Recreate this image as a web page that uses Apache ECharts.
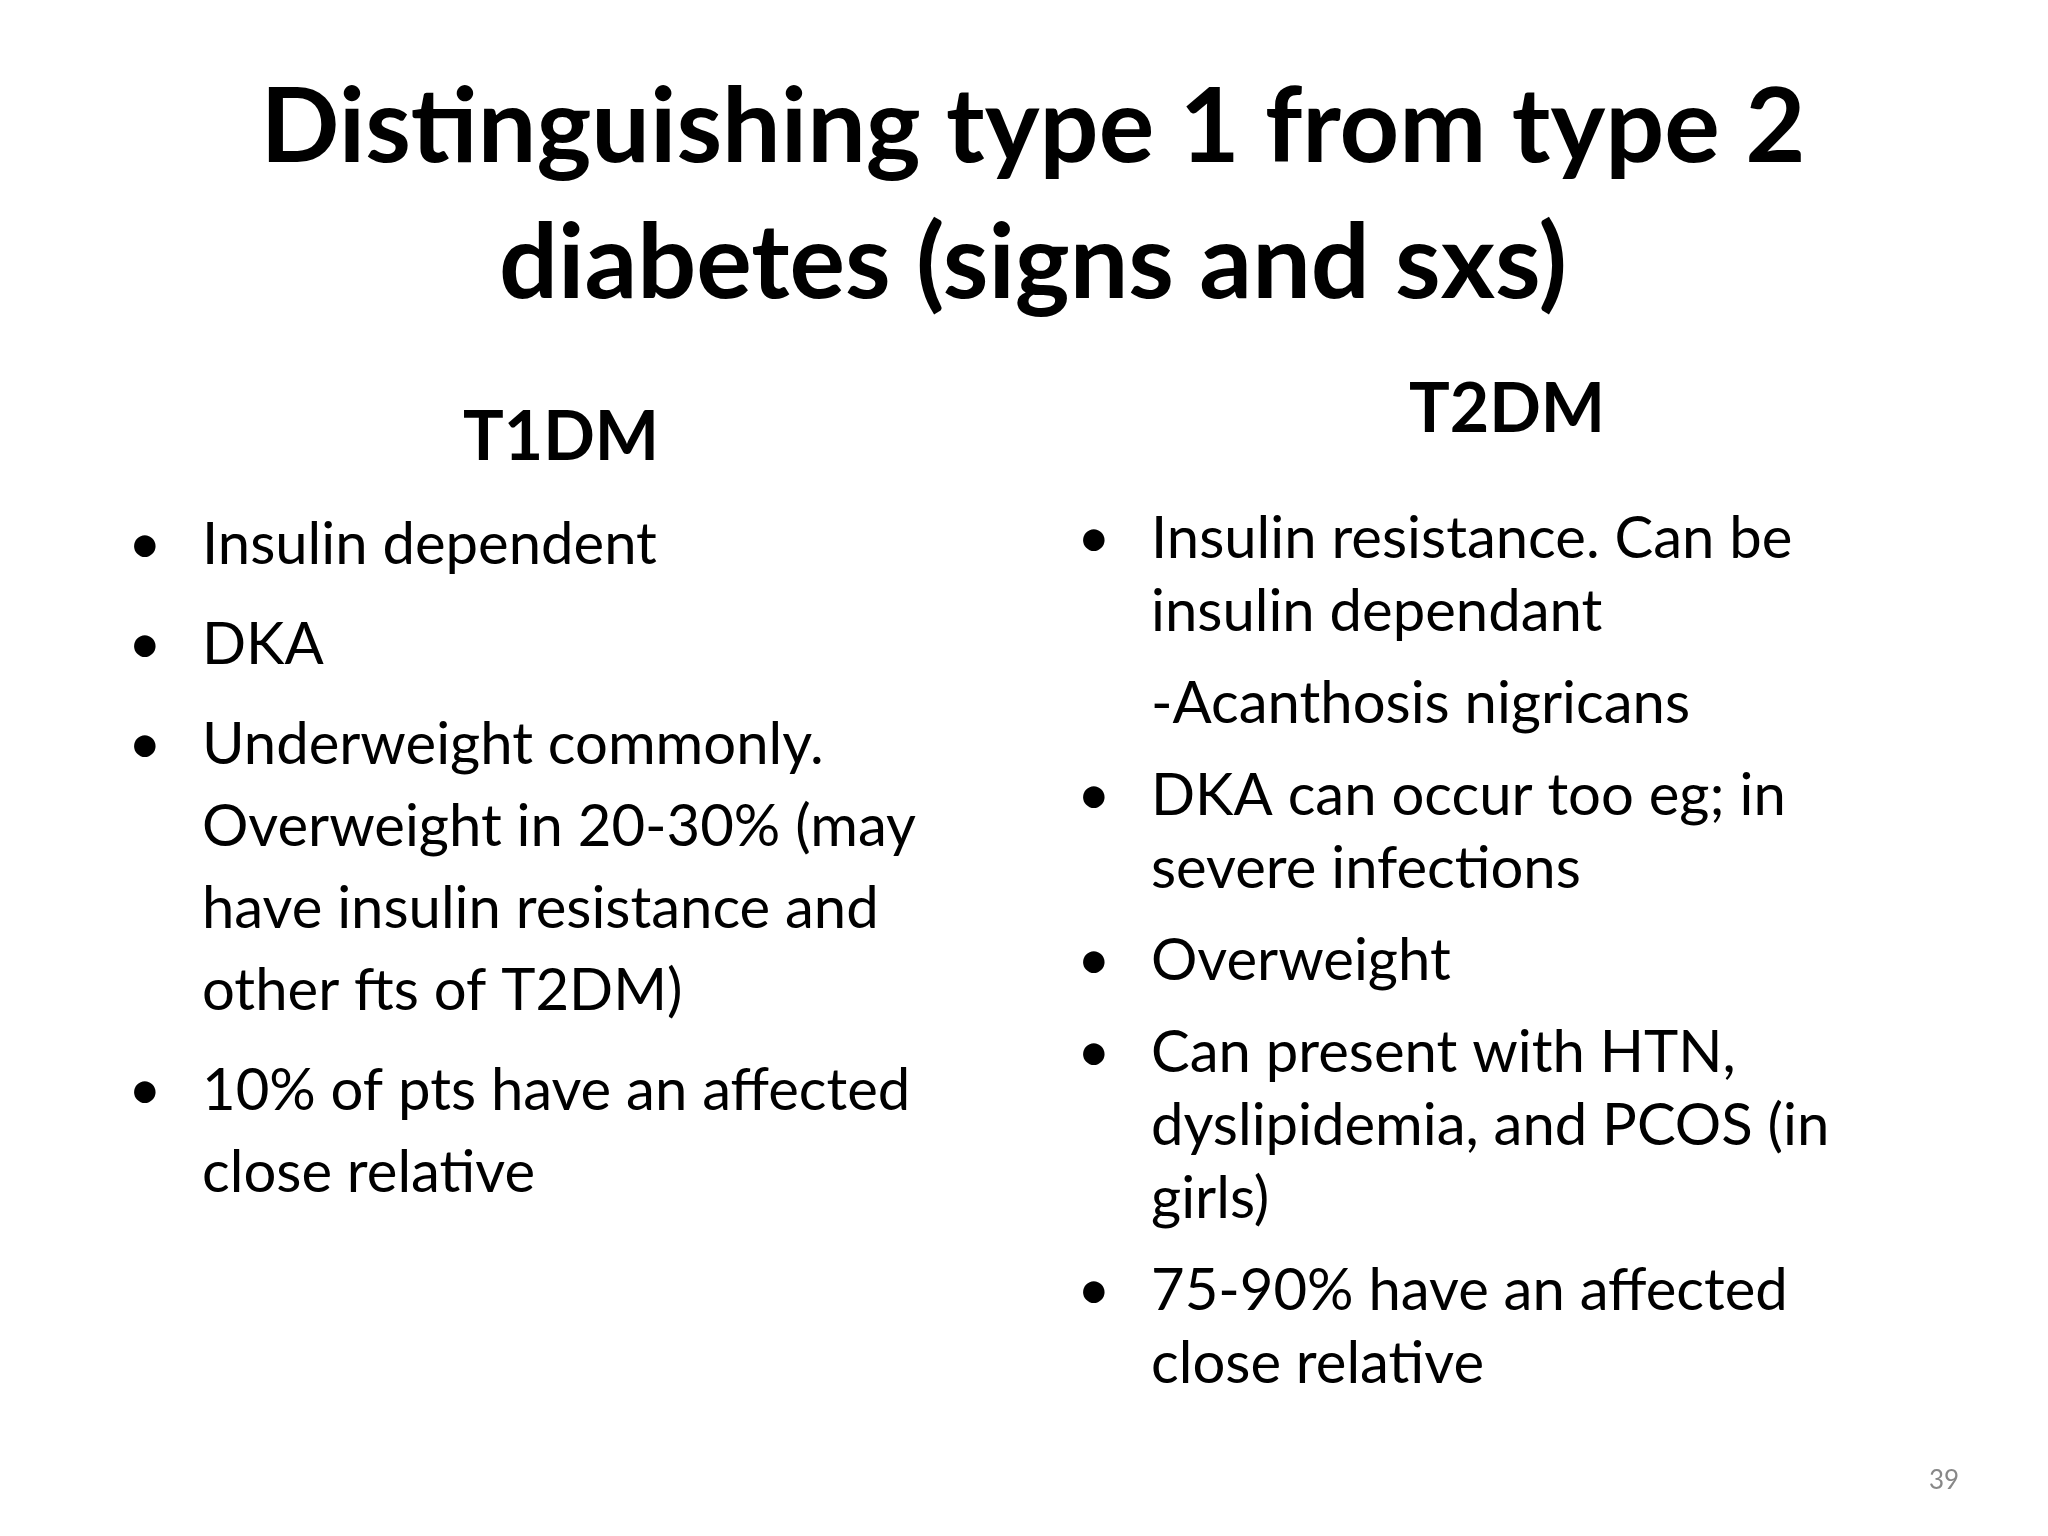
<!DOCTYPE html>
<html><head><meta charset="utf-8">
<script src="https://cdn.jsdelivr.net/npm/echarts@6/dist/echarts.min.js"></script>
<style>html,body{margin:0;padding:0;background:#fff}#c{width:2048px;height:1536px}</style>
</head><body><div id="c"></div>
<script>
const titleLines = ["Distinguishing type 1 from type 2", "diabetes (signs and sxs)"];
const leftHeading = "T1DM";
const rightHeading = "T2DM";
const leftItems = [
  {bullet:true, lines:["Insulin dependent"]},
  {bullet:true, lines:["DKA"]},
  {bullet:true, lines:["Underweight commonly.","Overweight in 20-30% (may","have insulin resistance and","other fts of T2DM)"]},
  {bullet:true, lines:["10% of pts have an affected","close relative"]}
];
const rightItems = [
  {bullet:true, lines:["Insulin resistance. Can be","insulin dependant"]},
  {bullet:false, lines:["-Acanthosis nigricans"]},
  {bullet:true, lines:["DKA can occur too eg; in","severe infections"]},
  {bullet:true, lines:["Overweight"]},
  {bullet:true, lines:["Can present with HTN,","dyslipidemia, and PCOS (in","girls)"]},
  {bullet:true, lines:["75-90% have an affected","close relative"]}
];
const pageNumber = "39";

const FONT = 'Lato, "Open Sans", sans-serif';
const els = [];
function txt(x,y,s,size,weight,align,color){
  els.push({type:'text',x:x,y:y,style:{text:s,fontSize:size,fontWeight:weight||'normal',fontFamily:FONT,fill:color||'#000',align:align||'left',verticalAlign:'middle'}});
}
txt(1033,128,titleLines[0],104,'bold','center');
txt(1033,264,titleLines[1],104,'bold','center');
txt(561,438,leftHeading,68,'bold','center');
txt(1507,410,rightHeading,68,'bold','center');
function column(items,bx,tx,y0,within,between,size){
  let y=y0;
  items.forEach((it,i)=>{
    if(i>0) y+=between;
    if(it.bullet) txt(bx,y,'•',size,'normal','left');
    it.lines.forEach((l,j)=>{ if(j>0) y+=within; txt(tx,y,l,size,'normal','left'); });
  });
}
column(leftItems,128,202,545,82,100,58);
column(rightItems,1077,1151,539,73,92,58);
txt(1944,1481,pageNumber,26,'normal','center','#888');

const chart = echarts.init(document.getElementById('c'));
chart.setOption({backgroundColor:'#fff',graphic:{elements:els}});
</script></body></html>
